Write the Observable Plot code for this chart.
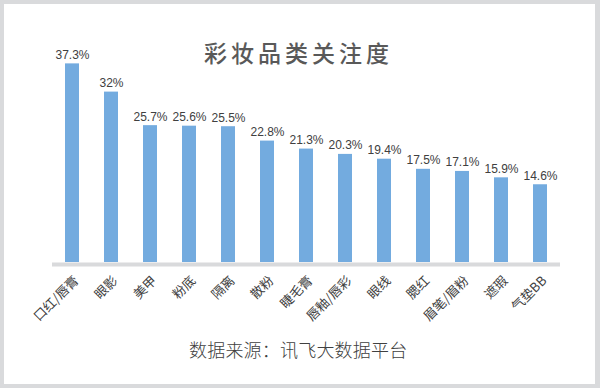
<!DOCTYPE html>
<html><head><meta charset="utf-8">
<script src="https://cdn.jsdelivr.net/npm/d3@7"></script>
<script src="https://cdn.jsdelivr.net/npm/@observablehq/plot@0.6"></script>
<style>
body{margin:0;background:#fff}
#wrap{position:relative;width:600px;height:388px;overflow:hidden;background:#fff}
#wrap svg{position:absolute;left:0;top:0}
#frame{position:absolute;left:0;top:0;width:600px;height:388px;box-sizing:border-box;border:4px solid #d9dadc;border-right-width:5px;pointer-events:none}
#title{position:absolute;left:204px;top:41px;font:500 23px "Noto Sans CJK SC";letter-spacing:4px;color:#595959;white-space:nowrap;line-height:1}
#caption{position:absolute;left:189px;top:340px;font:300 18px "Noto Sans CJK SC";letter-spacing:0.2px;color:#404040;white-space:nowrap;line-height:1}
</style></head>
<body>
<div id="wrap">
  <div id="chart"></div>
  <div id="title">彩妆品类关注度</div>
  <div id="caption">数据来源：讯飞大数据平台</div>
  <div id="frame"></div>
</div>
<script>
const categories = ["口红/唇膏","眼影","美甲","粉底","隔离","散粉","睫毛膏","唇釉/唇彩","眼线","腮红","眉笔/眉粉","遮瑕","气垫BB"];
const values = [37.3, 32, 25.7, 25.6, 25.5, 22.8, 21.3, 20.3, 19.4, 17.5, 17.1, 15.9, 14.6];
const data = categories.map((c, i) => ({category: c, value: values[i]}));

const chart = Plot.plot({
  width: 600,
  height: 388,
  marginLeft: 62,
  marginRight: 50,
  marginTop: 49,
  marginBottom: 126,
  style: {background: "transparent", fontFamily: "Noto Sans CJK SC", fontSize: "13px", color: "#404040"},
  x: {domain: categories, paddingInner: 0.646, paddingOuter: 0, axis: null},
  y: {domain: [0, 40], axis: null},
  marks: [
    Plot.barY(data, {x: "category", y: "value", fill: "#73abdf"}),
    Plot.ruleY([0], {stroke: "#d9dadc", strokeWidth: 4, dy: 2, insetLeft: -10, insetRight: -10}),
    Plot.axisX({label: null, tickSize: 0, tickRotate: -45, tickPadding: 8, dx: 4, dy: 8, fill: "#404040"}),
    Plot.text(data, {x: "category", y: "value", text: d => d.value + "%", dy: -5, lineAnchor: "bottom",
      fontSize: 12, fill: "#404040", fontFamily: "'Liberation Sans Narrow', 'Liberation Sans', sans-serif",
      style: "letter-spacing:-0.6px"})
  ]
});
document.getElementById("chart").appendChild(chart);
</script>
</body></html>
